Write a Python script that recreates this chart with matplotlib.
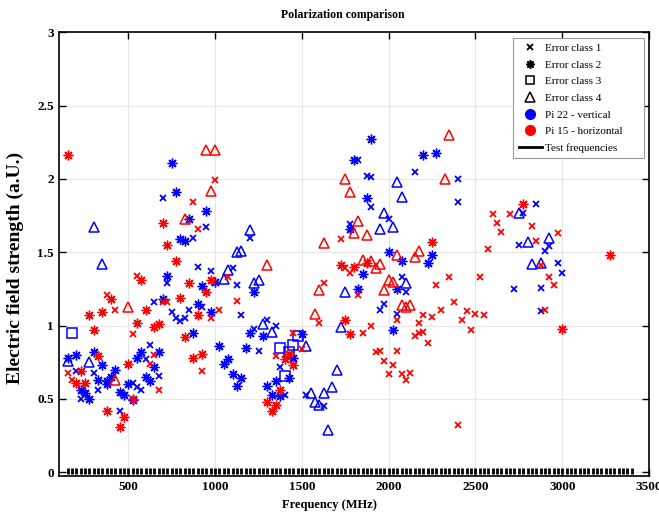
import matplotlib
matplotlib.use("Agg")
import matplotlib.pyplot as plt
from matplotlib.lines import Line2D
import numpy as np

plt.rcParams["font.family"] = ["Liberation Serif", "DejaVu Serif"]

# Pi 22 - vertical (blue)
v_c1_f = [700, 950, 1200, 875, 900, 975, 1100, 725, 1125, 650, 925, 850, 750, 775, 800, 825, 1150, 1225, 1300, 1350,
          1250, 1375, 1400, 200, 300, 325, 225, 525, 550, 575, 600, 625, 675, 450, 1975, 1950, 2050, 1525, 1625, 1825,
          2150, 1875, 1900, 2400, 1900, 2400, 2000, 1775, 2075, 2100, 2725, 2750, 2775, 2850, 2900, 2925, 2975, 3000, 2875, 2875]
v_c1_e = [1.87, 1.67, 1.60, 1.60, 1.40, 1.37, 1.39, 1.29, 1.28, 1.16, 1.13, 1.11, 1.09, 1.05, 1.03, 1.05, 1.07, 0.98, 1.04, 1.00,
          0.83, 0.72, 0.53, 0.69, 0.68, 0.56, 0.50, 0.61, 0.58, 0.56, 0.77, 0.87, 0.66, 0.42, 1.15, 1.11, 1.08, 0.53, 0.45, 2.13,
          2.05, 2.02, 2.01, 2.00, 1.81, 1.84, 1.73, 1.69, 1.33, 1.23, 1.25, 1.55, 1.77, 1.83, 1.51, 1.54, 1.43, 1.36, 1.26, 1.10]

v_c2_f = [750, 775, 950, 850, 800, 825, 725, 1000, 925, 1225, 700, 900, 975, 875, 1025, 1175, 1200, 1275, 1500, 1450,
          1425, 1350, 1300, 1325, 1375, 1075, 1050, 1100, 1150, 1125, 150, 200, 300, 350, 425, 400, 325, 375, 375, 225,
          250, 275, 450, 475, 500, 525, 575, 550, 675, 650, 600, 625, 1800, 1900, 2200, 2275, 1875, 1775, 2000, 2250,
          2075, 2225, 1850, 2050, 1825, 2025]
v_c2_e = [2.11, 1.91, 1.78, 1.73, 1.59, 1.58, 1.34, 1.30, 1.27, 1.23, 1.18, 1.15, 1.09, 0.95, 0.86, 0.85, 0.95, 0.93, 0.94, 0.78,
          0.64, 0.62, 0.59, 0.53, 0.52, 0.77, 0.74, 0.67, 0.64, 0.59, 0.78, 0.80, 0.82, 0.73, 0.70, 0.65, 0.63, 0.62, 0.60, 0.56,
          0.54, 0.50, 0.55, 0.53, 0.60, 0.49, 0.82, 0.78, 0.82, 0.72, 0.65, 0.62, 2.13, 2.27, 2.16, 2.18, 1.87, 1.66, 1.50, 1.48,
          1.44, 1.43, 1.35, 1.25, 1.25, 0.97]

v_c3_f = [175, 1375, 1425, 1450, 1475, 1400]
v_c3_e = [0.95, 0.85, 0.82, 0.87, 0.93, 0.66]

v_c4_f = [300, 1200, 1125, 1150, 350, 1075, 1050, 1225, 1250, 1275, 1325, 150, 275, 1525, 1725, 1700, 1675, 1550, 1625, 1575,
          1600, 1650, 2050, 2075, 1975, 1950, 2025, 1750, 2100, 2750, 2800, 2925, 2825, 2875]
v_c4_e = [1.67, 1.65, 1.50, 1.51, 1.42, 1.38, 1.32, 1.29, 1.31, 1.01, 0.96, 0.76, 0.75, 0.86, 0.99, 0.70, 0.58, 0.54, 0.54, 0.48,
          0.46, 0.29, 1.98, 1.88, 1.77, 1.66, 1.67, 1.23, 1.29, 1.77, 1.57, 1.60, 1.42, 1.43]

# Pi 15 - horizontal (red)
h_c1_f = [1000, 875, 900, 550, 1075, 375, 700, 725, 1125, 425, 1025, 975, 525, 150, 175, 650, 625, 675, 925, 1350,
          1450, 1500, 1600, 1725, 1625, 1750, 1775, 1825, 1850, 1900, 2050, 1925, 1950, 2050, 1975, 2025, 2000, 2075, 2125, 2100,
          2150, 2175, 2200, 2175, 2225, 2200, 2250, 2300, 2375, 2450, 2425, 2500, 2550, 2475, 2400, 2275, 2350, 2525, 2575, 2600,
          2700, 2625, 2650, 2825, 2975, 2850, 2875, 2925, 2950, 2900]
h_c1_e = [1.99, 1.84, 1.66, 1.34, 1.33, 1.21, 1.16, 1.16, 1.17, 1.11, 1.11, 1.05, 0.94, 0.68, 0.63, 0.80, 0.74, 0.56, 0.69, 0.79,
          0.95, 0.84, 1.02, 1.59, 1.29, 1.39, 1.36, 1.21, 0.95, 1.00, 1.04, 0.82, 0.83, 0.83, 0.76, 0.73, 0.67, 0.67, 0.68, 0.63,
          0.93, 0.95, 0.96, 1.02, 0.88, 1.07, 1.06, 1.11, 1.16, 1.10, 1.04, 1.08, 1.07, 0.97, 0.32, 1.28, 1.33, 1.33, 1.52, 1.76,
          1.76, 1.70, 1.64, 1.68, 1.63, 1.58, 1.41, 1.33, 1.28, 1.11]

h_c2_f = [150, 700, 725, 775, 575, 975, 850, 950, 400, 800, 600, 275, 350, 900, 550, 650, 675, 300, 825, 500,
          325, 225, 200, 250, 525, 375, 475, 450, 875, 925, 1425, 1400, 1450, 1375, 1300, 1350, 1325, 1750, 1775, 1725,
          1800, 1875, 2250, 2775, 3275, 3000]
h_c2_e = [2.16, 1.70, 1.55, 1.44, 1.31, 1.31, 1.29, 1.23, 1.18, 1.19, 1.11, 1.07, 1.09, 1.07, 1.02, 0.99, 1.01, 0.97, 0.92, 0.74,
          0.79, 0.69, 0.61, 0.61, 0.50, 0.42, 0.38, 0.31, 0.78, 0.81, 0.81, 0.77, 0.73, 0.56, 0.48, 0.46, 0.42, 1.04, 0.94, 1.41,
          1.40, 1.43, 1.57, 1.83, 1.48, 0.98]

h_c4_f = [950, 1000, 975, 825, 1300, 500, 425, 1575, 2075, 2100, 2125, 2350, 1750, 2325, 1775, 1825, 1800, 1875, 1625, 2050,
          2150, 2175, 1850, 1900, 1950, 1925, 2000, 2025, 1600, 1975]
h_c4_e = [2.20, 2.20, 1.92, 1.73, 1.41, 1.13, 0.63, 1.08, 1.14, 1.13, 1.14, 2.30, 2.00, 2.00, 1.91, 1.71, 1.63, 1.62, 1.56, 1.48,
          1.47, 1.51, 1.45, 1.44, 1.42, 1.39, 1.31, 1.30, 1.24, 1.24]

# test frequencies, 150 to 3400 MHz in 25 MHz steps
test_f = np.arange(150, 3401, 25)

ASTERISK = (8, 2, 0)
STYLE = {"x": (4.5, 1.3), ASTERISK: (7, 1.0), "s": (7, 1.1), "^": (7, 1.1)}

fig = plt.figure(figsize=(6.59, 5.16), dpi=100)
ax = fig.add_axes([0.0895, 0.0775, 0.8953, 0.860])

series = [
    ("#0000ff", v_c1_f, v_c1_e, "x"), ("#0000ff", v_c2_f, v_c2_e, ASTERISK),
    ("#0000ff", v_c3_f, v_c3_e, "s"), ("#0000ff", v_c4_f, v_c4_e, "^"),
    ("#ff0000", h_c1_f, h_c1_e, "x"), ("#ff0000", h_c2_f, h_c2_e, ASTERISK),
    ("#ff0000", h_c4_f, h_c4_e, "^"),
]
for color, f, e, m in series:
    ms, mew = STYLE[m]
    ax.plot(f, e, linestyle="none", marker=m, markersize=ms, markeredgewidth=mew, color=color,
            markerfacecolor="none" if m in ("s", "^") else color)

ax.plot(test_f, np.full(len(test_f), 0.012), linestyle="none", marker="|",
        markersize=5, markeredgewidth=2.0, color="black")

ax.set_xlim(100, 3500)
ax.set_ylim(-0.025, 3)
ax.set_xticks([500, 1000, 1500, 2000, 2500, 3000, 3500])
ax.set_yticks([0, 0.5, 1, 1.5, 2, 2.5, 3])
ax.set_yticklabels(["0", "0.5", "1", "1.5", "2", "2.5", "3"])
ax.tick_params(direction="in", top=True, right=True, length=5, width=1, labelsize=9.5)
for lab in ax.get_xticklabels() + ax.get_yticklabels():
    lab.set_fontweight("bold")
ax.grid(True, color="#e6e6e6", linewidth=0.8)
ax.set_axisbelow(True)
for sp in ax.spines.values():
    sp.set_linewidth(1.2)

ax.set_xlabel("Frequency (MHz)", fontsize=9, fontweight="bold")
ax.xaxis.set_label_coords(0.459, -0.052)
ax.set_ylabel("Electric field strength (a.U.)", fontsize=14, fontweight="bold")
ax.yaxis.set_label_coords(-0.06, 0.468)
ax.set_title("Polarization comparison", fontsize=8.5, fontweight="bold", x=0.481, pad=10)

handles = [
    Line2D([], [], linestyle="none", marker="x", color="black", markersize=4.5, markeredgewidth=1.3),
    Line2D([], [], linestyle="none", marker=ASTERISK, color="black", markersize=6, markeredgewidth=1.2),
    Line2D([], [], linestyle="none", marker="s", color="black", markerfacecolor="none", markersize=6, markeredgewidth=1.1),
    Line2D([], [], linestyle="none", marker="^", color="black", markerfacecolor="none", markersize=7, markeredgewidth=1.1),
    Line2D([], [], linestyle="none", marker="o", color="#0000ff", markersize=7),
    Line2D([], [], linestyle="none", marker="o", color="#ff0000", markersize=7),
    Line2D([], [], color="black", linewidth=2),
]
labels = ["Error class 1", "Error class 2", "Error class 3", "Error class 4",
          "Pi 22 - vertical", "Pi 15 - horizontal", "Test frequencies"]
leg = ax.legend(handles, labels, loc="upper left", bbox_to_anchor=(0.7695, 0.5, 0.222, 0.488),
                mode="expand", borderaxespad=0,
                fontsize=8, fancybox=False, framealpha=1, edgecolor="#999999",
                handlelength=2.07, labelspacing=0.62, handletextpad=0.27, borderpad=0.5)
leg.get_frame().set_linewidth(0.8)

fig.savefig("out.png", dpi=100)
